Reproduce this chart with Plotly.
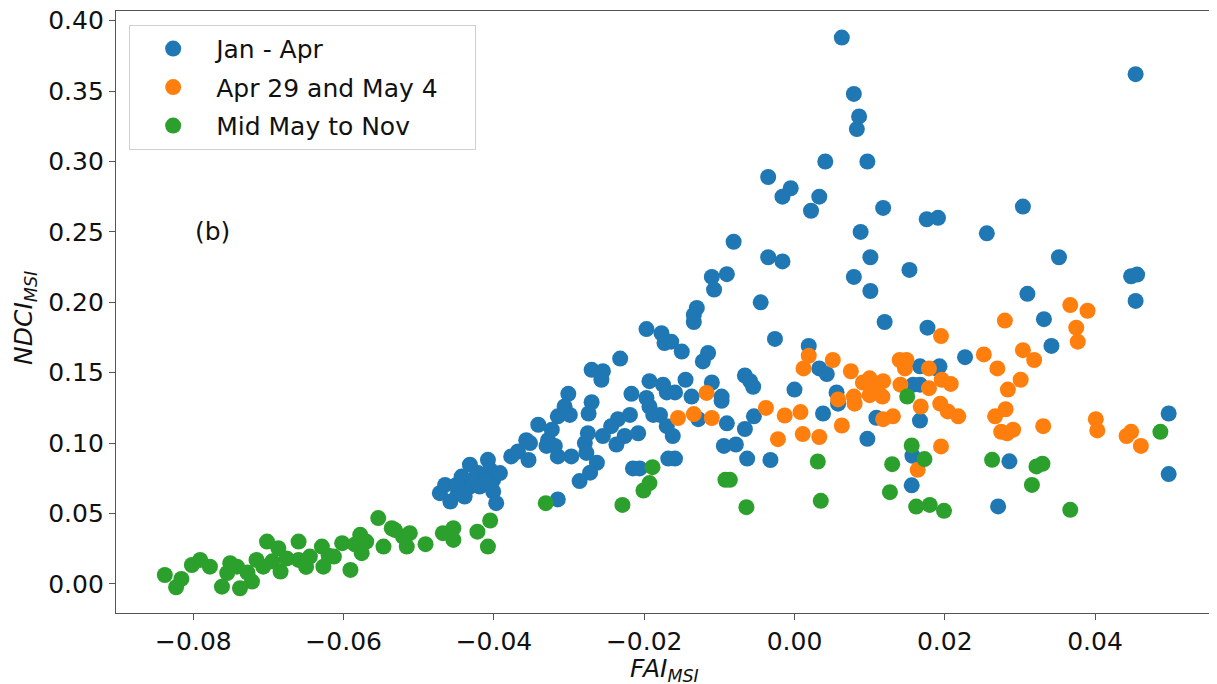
import plotly.graph_objects as go

# ---- data: Jan - Apr (blue)
jan_apr_x = [0.0063, 0.0079, 0.0086, 0.0083, 0.0041, 0.0097, -0.0035, -0.0005, -0.0016, 0.0033,
             0.0022, 0.0118, 0.0176, 0.0191, 0.0088, -0.0081, -0.0035, -0.0016, 0.0101, 0.0454,
             0.0304, 0.0256,
             0.0153, 0.0079, 0.0101, -0.0110, -0.0090, -0.0107, -0.0045, -0.0130, -0.0134, -0.0134,
             0.0120, 0.0177, -0.0026, -0.0177, -0.0164, -0.0150, -0.0115, -0.0122, 0.0019, 0.0033,
             0.0043, -0.0066, -0.0059, -0.0055, -0.0145, -0.0110, -0.0175, -0.0170, -0.0159, -0.0137,
             -0.0097, -0.0097, -0.0179, -0.0170, -0.0162, -0.0128, -0.0090, -0.0066, -0.0054, -0.0094,
             -0.0078, -0.0063, -0.0159, -0.0032, 0.0000, 0.0038, 0.0056, 0.0058, 0.0097, 0.0109,
             0.0167, 0.0158, 0.0167, 0.0193, 0.0167, 0.0157, 0.0156,
             0.0352, 0.0448, 0.0456, 0.0454, 0.0310, 0.0332, 0.0342, 0.0227, 0.0189, 0.0286,
             0.0271, 0.0498, 0.0498,
             -0.0197, -0.0173, -0.0232, -0.0270, -0.0255, -0.0257, -0.0193, -0.0217, -0.0197, -0.0193,
             -0.0188, -0.0301, -0.0306, -0.0315, -0.0299, -0.0270, -0.0274, -0.0235, -0.0219, -0.0244,
             -0.0226, -0.0255, -0.0237, -0.0208, -0.0275, -0.0279, -0.0277, -0.0263, -0.0272, -0.0286,
             -0.0297, -0.0315, -0.0319, -0.0330, -0.0341, -0.0357, -0.0354, -0.0368, -0.0377, -0.0328,
             -0.0323, -0.0215, -0.0206, -0.0315, -0.0168, -0.0352,
             -0.0472, -0.0465, -0.0458, -0.0448, -0.0443, -0.0432, -0.0432, -0.0421, -0.0419, -0.0408,
             -0.0405, -0.0401, -0.0392, -0.0401, -0.0397, -0.0439, -0.0428, -0.0412, -0.0450]
jan_apr_y = [0.388, 0.348, 0.332, 0.323, 0.300, 0.300, 0.289, 0.281, 0.275, 0.275,
             0.265, 0.267, 0.259, 0.260, 0.250, 0.243, 0.232, 0.229, 0.232, 0.362,
             0.268, 0.249,
             0.223, 0.218, 0.208, 0.218, 0.220, 0.209, 0.200, 0.196, 0.191, 0.186,
             0.186, 0.182, 0.174, 0.178, 0.172, 0.165, 0.164, 0.158, 0.169, 0.153,
             0.149, 0.148, 0.144, 0.140, 0.145, 0.143, 0.1415, 0.136, 0.136, 0.133,
             0.133, 0.130, 0.120, 0.112, 0.105, 0.117, 0.114, 0.110, 0.119, 0.098,
             0.099, 0.089, 0.089, 0.088, 0.138, 0.121, 0.136, 0.128, 0.103, 0.118,
             0.1545, 0.1415, 0.1415, 0.1545, 0.116, 0.091, 0.070,
             0.232, 0.2185, 0.2197, 0.201, 0.206, 0.188, 0.169, 0.161, 0.153, 0.087,
             0.055, 0.121, 0.078,
             0.181, 0.171, 0.160, 0.152, 0.151, 0.145, 0.144, 0.135, 0.132, 0.126,
             0.120, 0.135, 0.126, 0.119, 0.120, 0.129, 0.121, 0.117, 0.120, 0.112,
             0.105, 0.105, 0.099, 0.107, 0.107, 0.100, 0.093, 0.086, 0.079, 0.073,
             0.0905, 0.0905, 0.098, 0.098, 0.113, 0.102, 0.088, 0.094, 0.0905, 0.102,
             0.1095, 0.082, 0.082, 0.060, 0.089, 0.100,
             0.0644, 0.0703, 0.0585, 0.0644, 0.0762, 0.0846, 0.0691, 0.0787, 0.0691, 0.0881,
             0.0810, 0.0739, 0.0787, 0.0656, 0.0573, 0.0620, 0.0739, 0.0727, 0.0703]

# ---- data: Apr 29 and May 4 (orange)
apr_may_x = [-0.0117, -0.0155, -0.0134, -0.0110, -0.0038, -0.0013, 0.0008, -0.0022, 0.0011, 0.0033,
             0.0063, 0.0019, 0.0012, 0.0051, 0.0075, 0.0058, 0.0079, 0.0080, 0.0091, 0.0100,
             0.0105, 0.0118, 0.0100, 0.0117, 0.0118, 0.0131, 0.0140, 0.0149, 0.0147, 0.0141,
             0.0179, 0.0179, 0.0168, 0.0164, 0.0195, 0.0195, 0.0196, 0.0208, 0.0194, 0.0204,
             0.0218, 0.0252, 0.0270, 0.0280, 0.0304, 0.0319, 0.0301, 0.0284, 0.0281, 0.0267,
             0.0275, 0.0291, 0.0283, 0.0331, 0.0367, 0.0390, 0.0375, 0.0377, 0.0401, 0.0403,
             0.0442, 0.0448, 0.0461]
apr_may_y = [0.1356, 0.1178, 0.1206, 0.1178, 0.1250, 0.1196, 0.1220, 0.1028, 0.1064, 0.1043,
             0.1125, 0.1620, 0.1530, 0.1590, 0.1510, 0.1310, 0.1330, 0.1280, 0.1430, 0.1460,
             0.1400, 0.1440, 0.1340, 0.1330, 0.1170, 0.1190, 0.1590, 0.1590, 0.1530, 0.1415,
             0.1530, 0.1390, 0.1260, 0.0810, 0.0976, 0.1760, 0.1450, 0.1420, 0.1280, 0.1225,
             0.1190, 0.1630, 0.1530, 0.1870, 0.1660, 0.1590, 0.1450, 0.1380, 0.1240, 0.1190,
             0.1080, 0.1095, 0.1070, 0.1120, 0.1980, 0.1940, 0.1820, 0.1720, 0.1170, 0.1090,
             0.1050, 0.1080, 0.0980]

# ---- data: Mid May to Nov (green)
mid_may_x = [-0.0838, -0.0816, -0.0823, -0.0802, -0.0791, -0.0778, -0.0762, -0.0751, -0.0755, -0.0738,
             -0.0742, -0.0722, -0.0716, -0.0702, -0.0707, -0.0687, -0.0684, -0.0676, -0.0660, -0.0660,
             -0.0645, -0.0629, -0.0627, -0.0613, -0.0602, -0.0591, -0.0578, -0.0576, -0.0554, -0.0547,
             -0.0536, -0.0532, -0.0521, -0.0512, -0.0516, -0.0491, -0.0468, -0.0454, -0.0454, -0.0422,
             -0.0405, -0.0408, -0.0331, -0.0229, -0.0201, -0.0193, -0.0189, -0.0092, -0.0086, -0.0064,
             0.0031, 0.0035, 0.0130, 0.0127, 0.0150, 0.0156, 0.0173, 0.0162, 0.0180, 0.0199,
             0.0263, 0.0322, 0.0330, 0.0316, 0.0367, 0.0487,
             -0.0728, -0.0695, -0.0650, -0.0620, -0.0585, -0.0570]
mid_may_y = [0.0063, 0.0035, -0.0024, 0.0134, 0.0170, 0.0122, -0.0020, 0.0147, 0.0077, -0.0031,
             0.0122, 0.0016, 0.0170, 0.0300, 0.0122, 0.0253, 0.0087, 0.0180, 0.0300, 0.0170,
             0.0194, 0.0265, 0.0122, 0.0194, 0.0289, 0.0099, 0.0348, 0.0218, 0.0467, 0.0265,
             0.0395, 0.0383, 0.0336, 0.0360, 0.0265, 0.0282, 0.0360, 0.0395, 0.0312, 0.0371,
             0.0450, 0.0265, 0.0573, 0.0561, 0.0663, 0.0716, 0.0829, 0.0739, 0.0739, 0.0545,
             0.0869, 0.0590, 0.0850, 0.0651, 0.1331, 0.0983, 0.0886, 0.0549, 0.0561, 0.0519,
             0.0881, 0.0834, 0.0853, 0.0703, 0.0526, 0.1080,
             0.0080, 0.0160, 0.0120, 0.0200, 0.0280, 0.0300]

x_ticks = [-0.08, -0.06, -0.04, -0.02, 0.00, 0.02, 0.04]
y_ticks = [0.00, 0.05, 0.10, 0.15, 0.20, 0.25, 0.30, 0.35, 0.40]

FONT = "DejaVu Sans"
NB = "\u00a0"
fig = go.Figure()
series = [
    ("Jan - Apr", jan_apr_x, jan_apr_y, "#1f77b4"),
    ("Apr 29 and May 4" + NB * 4, apr_may_x, apr_may_y, "#ff7f0e"),
    ("Mid May to Nov", mid_may_x, mid_may_y, "#2ca02c"),
]
for i, (name, xs, ys, col) in enumerate(series):
    fig.add_trace(go.Scatter(
        x=xs, y=ys, mode="markers", name=name, legendgroup=f"g{i}",
        marker=dict(size=16, color=col, line=dict(width=0)),
    ))

txt_font = dict(family=FONT, size=25, color="#111")
fig.add_annotation(x=-0.0774, y=0.250, text="(b)", showarrow=False,
                   font=txt_font, xanchor="center", yanchor="middle")
# axis titles
fig.add_annotation(x=0.5, y=-0.095, xref="paper", yref="paper",
                   text="<i>FAI<sub>MSI</sub></i>", showarrow=False,
                   font=txt_font, xanchor="center", yanchor="middle")
fig.add_annotation(x=-0.083, y=0.49, xref="paper", yref="paper",
                   text="<i>NDCI<sub>MSI</sub></i>", showarrow=False, textangle=-90,
                   font=txt_font, xanchor="center", yanchor="middle")

axis_common = dict(
    showgrid=False, zeroline=False, showline=True, linecolor="#555", linewidth=1.3,
    mirror=True, ticks="outside", ticklen=6, tickcolor="#555", tickwidth=1.2,
    tickfont=txt_font,
    tickformat=".2f", automargin=False, ticklabeloverflow="allow",
)
# the page body has an 8px default margin, so the figure is sized/offset to compensate
fig.update_layout(
    width=1209, height=676,
    margin=dict(l=108, r=4, t=3, b=71, autoexpand=False),
    plot_bgcolor="white", paper_bgcolor="white",
    xaxis=dict(range=[-0.0903, 0.0557], tickvals=x_ticks, **axis_common),
    yaxis=dict(range=[-0.0207, 0.4069], tickvals=y_ticks, **axis_common),
    legend=dict(x=0.012, y=0.977, xanchor="left", yanchor="top",
                bgcolor="rgba(255,255,255,0.85)", bordercolor="#d0d0d0", borderwidth=1,
                font=txt_font, itemwidth=76, tracegroupgap=3),
    showlegend=True,
    hovermode=False,
)
fig.write_html("out.html")
